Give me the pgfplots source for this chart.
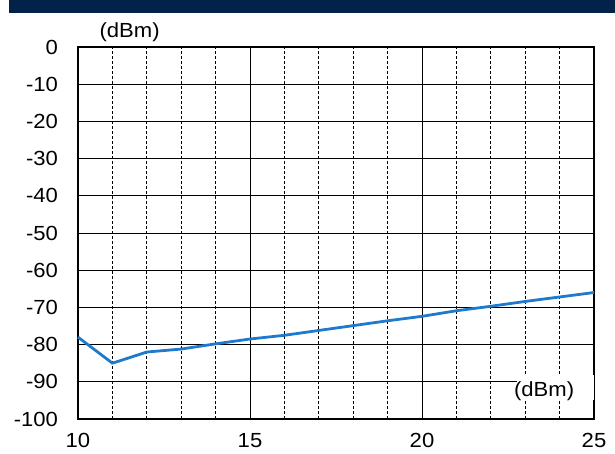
\documentclass[border=0pt]{standalone}
\usepackage{fontspec}
\setmainfont{Liberation Sans}[FakeStretch=1.08]
\usepackage{pgfplots}
\pgfplotsset{compat=1.18}
\definecolor{hdr}{RGB}{3,34,74}
\definecolor{serie}{RGB}{30,122,204}
\begin{document}
\fontsize{20.5}{23}\selectfont
\begin{tikzpicture}[x=1bp,y=1bp]
\useasboundingbox (0,0) rectangle (615,454);
\fill[hdr] (9,441) rectangle (615,454);
\begin{axis}[at={(78bp,35bp)}, anchor=south west, scale only axis,
  width=516bp, height=372bp,
  xmin=10, xmax=25, ymin=-100, ymax=0,
  xtick={10,15,20,25}, minor xtick={11,12,13,14,16,17,18,19,21,22,23,24},
  ytick={-100,-90,-80,-70,-60,-50,-40,-30,-20,-10,0},
  grid=both,
  major grid style={black, line width=0.8pt},
  minor grid style={black, line width=0.7pt, dash pattern=on 3bp off 2bp},
  axis line style={black, line width=1.3pt},
  tick style={draw=none},
  clip=false,
  tick label style={font=\fontsize{20.5}{23}\selectfont},
  /pgf/number format/assume math mode=true,
  xticklabel style={yshift=-7.5bp},
  yticklabel style={xshift=-13bp},
]
\addplot[serie, line width=2.8pt, line join=round] coordinates {
(10,-78) (11,-85) (12,-82) (13,-81.2) (14,-79.8) (15,-78.5) (16,-77.5)
(17,-76.2) (18,-74.9) (19,-73.6) (20,-72.4) (21,-70.9) (22,-69.7)
(23,-68.4) (24,-67.2) (25,-66)
};
\fill[white] (axis cs:22.75,-88.2) rectangle (axis cs:25.0,-94.8);
\node[inner sep=0pt] at (axis cs:23.55,-92.4) {(dBm)};
\node at (axis cs:11.5,3.9) {(dBm)};
\end{axis}
\end{tikzpicture}
\end{document}
